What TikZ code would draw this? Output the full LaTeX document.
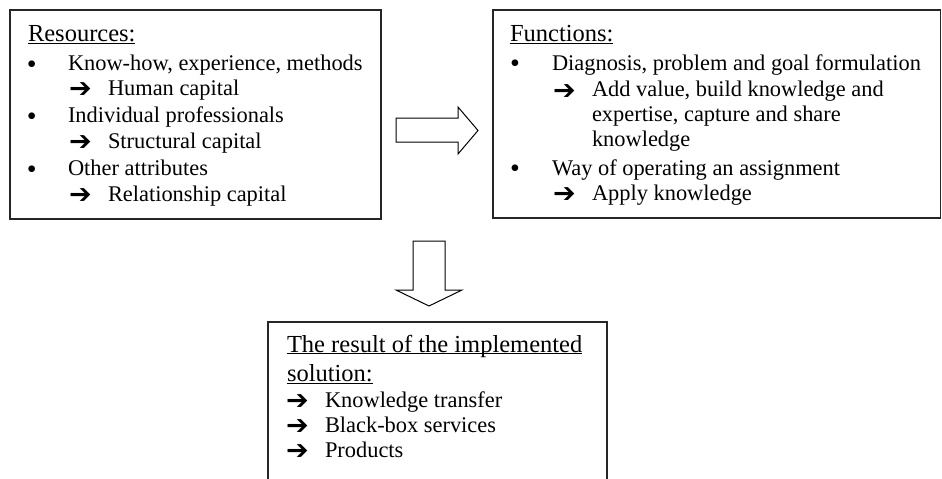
\documentclass[tikz,border=0pt]{standalone}
\usepackage{fontspec}
\setmainfont{Liberation Serif}
\newfontfamily\arrfont{DejaVu Sans Bold}
\newcommand\myul[1]{\setbox0\hbox{#1}\rlap{\rule[-2.4pt]{\wd0}{1.2pt}}\box0}
\begin{document}
\begin{tikzpicture}[x=1pt,y=-1pt,
  box/.style={draw=black!85,line width=1.3pt,rectangle,inner sep=0pt,outer sep=0pt},
  txt/.style={anchor=base west,inner sep=0pt,outer sep=0pt,font=\fontsize{22.4}{26.6}\selectfont},
  head/.style={anchor=base west,inner sep=0pt,outer sep=0pt,font=\fontsize{24.5}{29}\selectfont},
  bul/.style={anchor=base west,inner sep=0pt,outer sep=0pt,font=\fontsize{28}{30}\selectfont},
  arr/.style={anchor=base west,inner sep=0pt,outer sep=0pt,font=\arrfont\fontsize{27}{30}\selectfont},
  blockarrow/.style={draw=black,line width=1pt,fill=white,line join=miter}]
\useasboundingbox (0,0) rectangle (942,479);
\clip (0,0) rectangle (942,479);
\fill[white] (0,0) rectangle (942,479);
% boxes
\node[box,minimum width=371pt,minimum height=209pt] (res) at (195.5,114.5) {};
\node[box,minimum width=447.5pt,minimum height=208pt] (fun) at (716.75,114) {};
\node[box,minimum width=339pt,minimum height=190pt] (out) at (437.5,417) {};
% Resources text
\node[head] (r0) at (28,41.5) {\myul{Resources:}};
\node[bul] (rb1) at (27,73.5) {•};
\node[txt] (r1) at (68,70.7) {Know-how, experience, methods};
\node[arr] (ra1) at (69,97.5) {➔};
\node[txt] (r2) at (108,95) {Human capital};
\node[bul] (rb2) at (27,125.5) {•};
\node[txt] (r3) at (68,122.7) {Individual professionals};
\node[arr] (ra2) at (69,150.5) {➔};
\node[txt] (r4) at (108,148) {Structural capital};
\node[bul] (rb3) at (27,178.5) {•};
\node[txt] (r5) at (68,175.7) {Other attributes};
\node[arr] (ra3) at (69,203.5) {➔};
\node[txt] (r6) at (108,201) {Relationship capital};
% Functions text
\node[head] (f0) at (510,41.7) {\myul{Functions:}};
\node[bul] (fb1) at (510,72.8) {•};
\node[txt] (f1) at (552,70) {Diagnosis, problem and goal formulation};
\node[arr] (fa1) at (553,99.2) {➔};
\node[txt] (f2) at (592,96.7) {Add value, build knowledge and};
\node[txt] (f3) at (592,121.7) {expertise, capture and share};
\node[txt] (f4) at (592,146.7) {knowledge};
\node[bul] (fb2) at (510,177.8) {•};
\node[txt] (f5) at (552,175) {Way of operating an assignment};
\node[arr] (fa2) at (553,202.5) {➔};
\node[txt] (f6) at (592,200) {Apply knowledge};
% Result text
\node[head] (o0) at (287,352) {\myul{The result of the implemented}};
\node[head] (o1) at (287,381.5) {\myul{solution:}};
\node[arr] (oa1) at (286,409.5) {➔};
\node[txt] (o2) at (325,407) {Knowledge transfer};
\node[arr] (oa2) at (286,434.5) {➔};
\node[txt] (o3) at (325,432) {Black-box services};
\node[arr] (oa3) at (286,459.5) {➔};
\node[txt] (o4) at (325,457) {Products};
% block arrows
\draw[blockarrow] (396,118) -- (458,118) -- (458,107) -- (478,130.5) -- (458,154) -- (458,142) -- (396,142) -- cycle;
\draw[blockarrow] (413,241) -- (445,241) -- (445,290) -- (462,290) -- (429,306) -- (396,290) -- (413,290) -- cycle;
\end{tikzpicture}
\end{document}
